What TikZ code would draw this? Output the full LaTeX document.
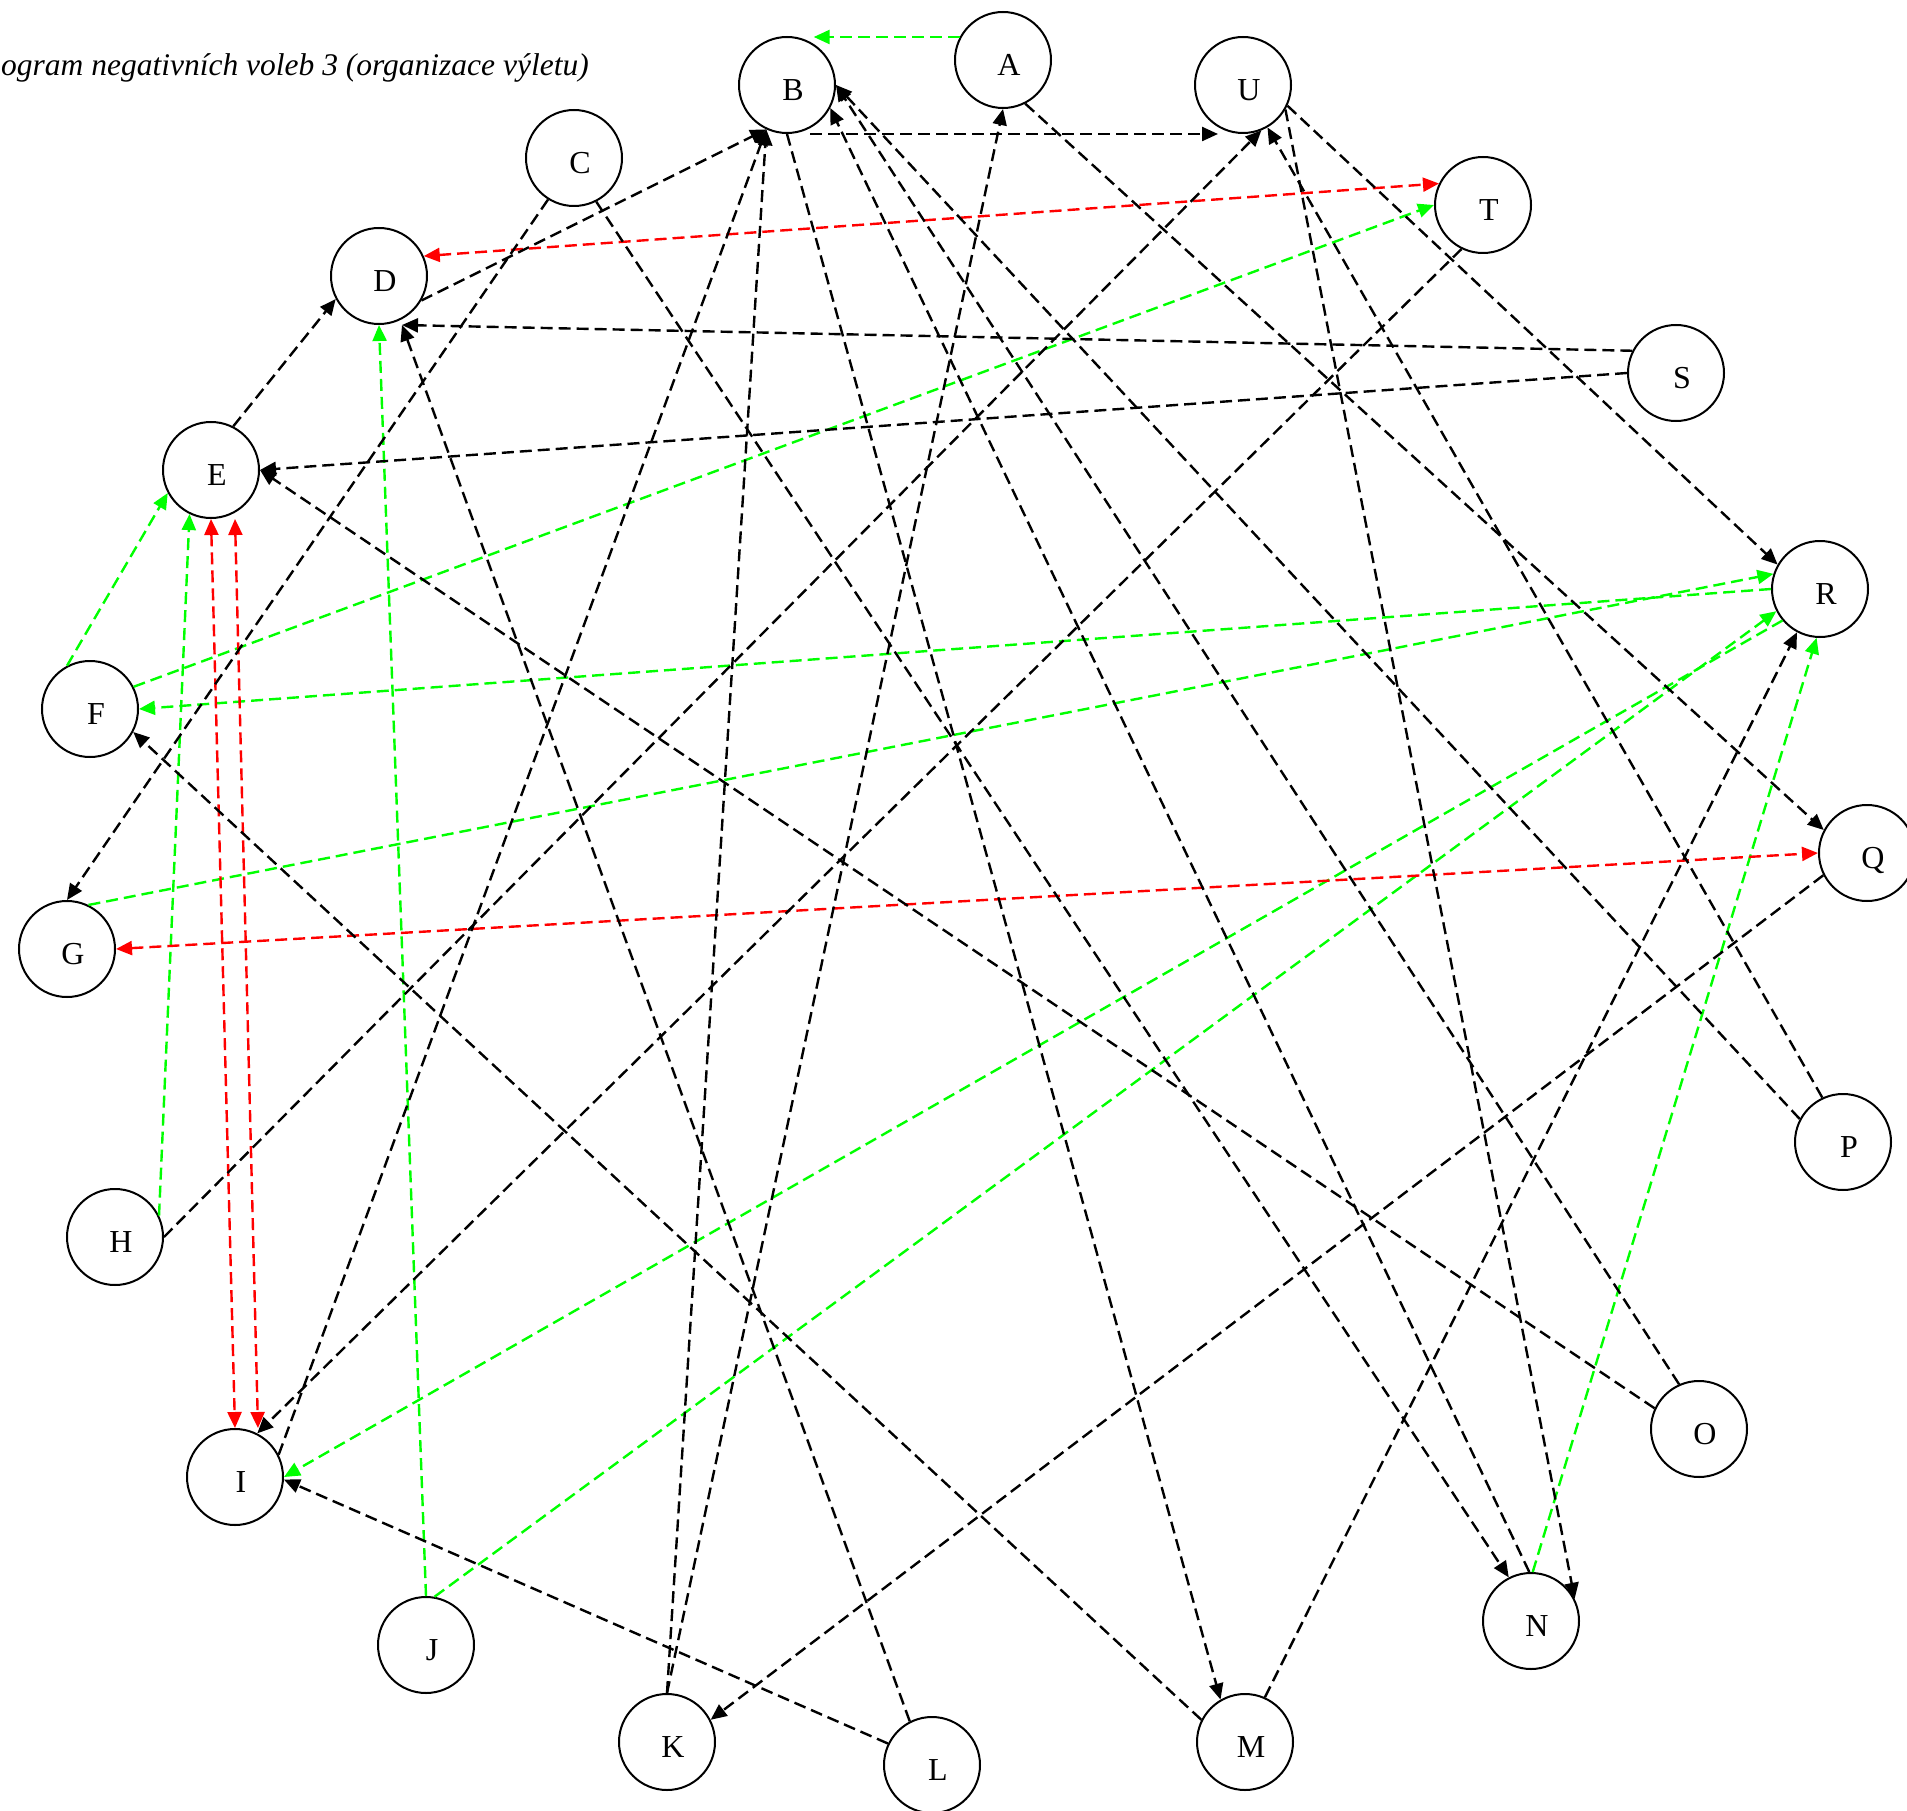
\documentclass[tikz,border=0pt]{standalone}
\usepackage{fontspec}
\setmainfont{Liberation Serif}
\usetikzlibrary{arrows.meta}
\tikzset{
  vtx/.style={circle, draw=black, line width=2pt, fill=white, minimum size=96pt, inner sep=0pt,
    font=\fontsize{32}{38}\selectfont, text height=31pt, text depth=0pt,
    execute at begin node={\hspace*{12pt}}},
  ebase/.style={line width=2.4pt, dash pattern=on 12pt off 6pt},
  tip/.tip={Triangle[length=16pt,width=14pt]},
  k/.style={ebase, draw=black, -tip},
  g/.style={ebase, draw=green, -tip},
  r/.style={ebase, draw=red, tip-tip},
}
\begin{document}
\begin{tikzpicture}[x=1pt,y=-1pt]
\useasboundingbox (0,0) rectangle (1907,1811);
\node[anchor=base west, inner sep=0pt, font=\fontsize{31.5}{38}\selectfont\itshape] (title) at (1,76) {ogram negativních voleb 3 (organizace výletu)};
% vertices
\node[vtx] (A) at (1003,60) {A};
\node[vtx] (B) at (787,85) {B};
\node[vtx] (C) at (574,158) {C};
\node[vtx] (D) at (379,276) {D};
\node[vtx] (E) at (211,470) {E};
\node[vtx] (F) at (90,709) {F};
\node[vtx] (G) at (67,949) {G};
\node[vtx] (H) at (115,1237) {H};
\node[vtx] (I) at (235,1477) {I};
\node[vtx] (J) at (426,1645) {J};
\node[vtx] (K) at (667,1742) {K};
\node[vtx] (L) at (932,1765) {L};
\node[vtx] (M) at (1245,1742) {M};
\node[vtx] (N) at (1531,1621) {N};
\node[vtx] (O) at (1699,1429) {O};
\node[vtx] (P) at (1843,1142) {P};
\node[vtx] (Q) at (1867,853) {Q};
\node[vtx] (R) at (1820,589) {R};
\node[vtx] (S) at (1676,373) {S};
\node[vtx] (T) at (1483,205) {T};
\node[vtx] (U) at (1243,85) {U};
% green edges
\draw[g] (A.152) -- (A.152 -| B.57);
\draw[g] (F.118) -- (E.208);
\draw[g] (H.26) -- (E.244);
\draw[g] (J.90) -- (D.270);
\draw[g] (F.27) -- (T.180);
\draw[g] (R.180) -- (F.0);
\draw[g] (G.64) -- (R.162);
\draw[g] (N.88) -- (R.266);
\draw[g] (J.80) -- (R.207);
\draw[g] (R.220) -- (I.0);
% red edges
\draw[r] (D.24) -- (T.154);
\draw[r] (G.0) -- (Q.180);
\draw[r] (E.south) -- (I.north);
\draw[r] ([xshift=24pt]E.south) -- ([xshift=23pt]I.north);
% black edges
\draw[k] ([xshift=23pt]B.south) -- ([xshift=-25pt]U.south);
\draw[k] (D.-30) -- (B.245);
\draw[k] (E.63) -- (D.208);
\draw[k] (C.238) -- (G.north);
\draw[k] (C.297) -- (N.117);
\draw[k] (B.south) -- (M.120);
\draw[k] (K.north) -- (B.245);
\draw[k] (K.north) -- (A.south);
\draw[k] (A.297) -- (Q.152);
\draw[k] (U.335) -- (R.150);
\draw[k] (U.330) -- (N.27);
\draw[k] (P.115) -- (U.300);
\draw[k] (H.east) -- (U.292);
\draw[k] (S.153) -- ([xshift=23pt]D.south);
\draw[k] (S.west) -- (E.east);
\draw[k] (O.155) -- (E.east);
\draw[k] (O.114) -- (B.east);
\draw[k] (P.152) -- (B.east);
\draw[k] (N.92) -- (B.332);
\draw[k] (M.153) -- (F.332);
\draw[k] (M.66) -- (R.242);
\draw[k] (L.117) -- ([xshift=23pt]D.south);
\draw[k] (L.154) -- (I.357);
\draw[k] (Q.207) -- (K.27);
\draw[k] (T.244) -- (I.63);
\draw[k] (I.27) -- (B.245);
\end{tikzpicture}
\end{document}
